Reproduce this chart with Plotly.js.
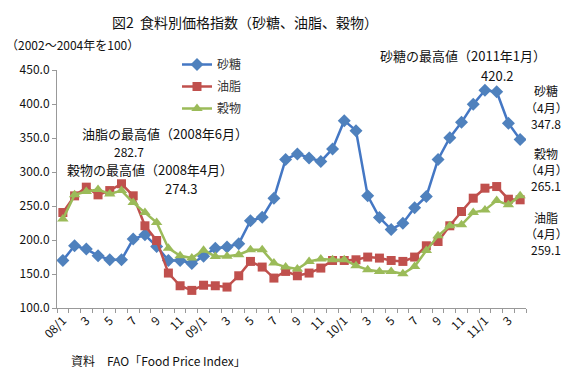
<!DOCTYPE html>
<html>
<head>
<meta charset="utf-8">
<script src="https://cdn.plot.ly/plotly-3.0.1.min.js"></script>
<style>html,body{margin:0;padding:0;background:#fff;}#chart{width:576px;height:377px;}</style>
</head>
<body>
<div id="chart"></div>
<script>
const months = ["2008/1","2008/2","2008/3","2008/4","2008/5","2008/6","2008/7","2008/8","2008/9","2008/10","2008/11","2008/12",
"2009/1","2009/2","2009/3","2009/4","2009/5","2009/6","2009/7","2009/8","2009/9","2009/10","2009/11","2009/12",
"2010/1","2010/2","2010/3","2010/4","2010/5","2010/6","2010/7","2010/8","2010/9","2010/10","2010/11","2010/12",
"2011/1","2011/2","2011/3","2011/4"];
const tickLabels = ["08/1","","3","","5","","7","","9","","11","",
"09/1","","3","","5","","7","","9","","11","",
"10/1","","3","","5","","7","","9","","11","",
"11/1","","3",""];
const sugar = [170,191.5,186.6,177,171,171,201.3,207.6,190.5,170,170,165.5,
176,188,189.6,194.6,228.4,233.3,261.5,318.5,326.6,320.7,315.5,334,
375.5,360.8,264.9,233,215.5,224.8,247.5,264,318.5,350.5,373,399.5,
420.2,418,371.6,347.8];
const oils = [240.4,264.9,277.7,266.4,272.7,282.7,265,220.9,199.3,151.4,132.7,125.9,
133.5,132.7,130.8,147.4,168.5,160.2,144,153.8,147.4,151.4,158.7,169.9,
169.9,170.9,174.9,173.4,169.9,168.5,174.9,191.5,197.8,220.9,241.9,261.5,
276.2,278.6,260,259.1];
const cereals = [230.7,266.4,271.3,274.3,267.8,272.7,255,240.4,225.7,188,176.8,173.4,
185,175.8,176,178.3,185.6,185.6,166,160.2,157.3,168.5,172,171,
171,162.2,156.2,153.8,153.8,150.4,161,184.6,206.2,220.9,222.3,240.4,
244.3,258,251.7,265.1];
const seriesNames = ["砂糖","油脂","穀物"];

const FONT = "'Noto Sans CJK JP', 'Noto Sans', sans-serif";
const TXT = "#111";
const L = 57, R = 526, T = 70, B = 308;
const px = x => (x - L) / (R - L);
const py = y => (B - y) / (B - T);

const traces = [
  {x: months, y: sugar, name: seriesNames[0], legendgroup: "a", type: "scatter", mode: "lines+markers",
   line: {color: "#4477C4", width: 2.5}, marker: {symbol: "diamond", size: 10, color: "#4F81BD"}},
  {x: months, y: oils, name: seriesNames[1], legendgroup: "b", type: "scatter", mode: "lines+markers",
   line: {color: "#C0504D", width: 2.5}, marker: {symbol: "square", size: 9, color: "#C0504D"}},
  {x: months, y: cereals, name: seriesNames[2], legendgroup: "c", type: "scatter", mode: "lines+markers",
   line: {color: "#9BBB59", width: 2.5}, marker: {symbol: "triangle-up", size: 10, color: "#9BBB59"}}
];

function ann(text, x, y, size, xanchor) {
  return {text: text, xref: "paper", yref: "paper", x: px(x), y: py(y), showarrow: false, borderpad: 0,
    xanchor: xanchor || "center", yanchor: "middle", font: {family: FONT, size: size || 12, color: TXT}};
}

const layout = {
  width: 576, height: 377,
  margin: {l: L, r: 576 - R, t: T, b: 377 - B, pad: 0},
  paper_bgcolor: "#fff", plot_bgcolor: "#fff",
  font: {family: FONT, size: 11, color: TXT},
  title: {text: "図2  食料別価格指数（砂糖、油脂、穀物）", x: 245/576, xanchor: "center", y: 1 - 23/377, yanchor: "middle",
    font: {family: FONT, size: 14, color: TXT}},
  showlegend: true,
  legend: {x: px(177), y: py(50), xanchor: "left", yanchor: "top", bgcolor: "rgba(0,0,0,0)",
    traceorder: "grouped", tracegroupgap: 3, itemwidth: 30,
    font: {family: FONT, size: 12, color: "#333"}},
  xaxis: {type: "category", categoryorder: "array", categoryarray: months,
    tickmode: "array", tickvals: months, ticktext: tickLabels, tickangle: -45,
    tickson: "boundaries", ticks: "outside", ticklen: 4, tickcolor: "#999",
    showline: true, linecolor: "#999", linewidth: 1, showgrid: false, zeroline: false,
    range: [-0.5, 39.5], tickfont: {family: FONT, size: 12, color: TXT}},
  yaxis: {range: [100, 450], dtick: 50, tick0: 100, tickformat: ".1f",
    ticks: "outside", ticklen: 4, tickcolor: "#999",
    showline: true, linecolor: "#999", linewidth: 1, showgrid: false, zeroline: false,
    tickfont: {family: FONT, size: 12, color: TXT}},
  annotations: [
    ann("（2002～2004年を100）", 5, 45, 12, "left"),
    ann("砂糖の最高値（2011年1月）", 379, 55, 13, "left"),
    ann("420.2", 497, 75, 13),
    ann("砂糖", 546, 90, 12),
    ann("（4月）", 546, 107, 12),
    ann("347.8", 546, 123, 12),
    ann("穀物", 546, 153, 12),
    ann("（4月）", 546, 169, 12),
    ann("265.1", 546, 185, 12),
    ann("油脂", 546, 217, 12),
    ann("（4月）", 546, 233, 12),
    ann("259.1", 546, 249, 12),
    ann("油脂の最高値（2008年6月）", 81, 133, 13, "left"),
    ann("282.7", 129, 151, 12),
    ann("穀物の最高値（2008年4月）", 66, 169, 13, "left"),
    ann("274.3", 181, 188, 13)
    ,ann("資料　FAO「Food Price Index」", 70, 360, 12, "left")
  ]
};

Plotly.newPlot("chart", traces, layout, {displayModeBar: false, staticPlot: true});
</script>
</body>
</html>
